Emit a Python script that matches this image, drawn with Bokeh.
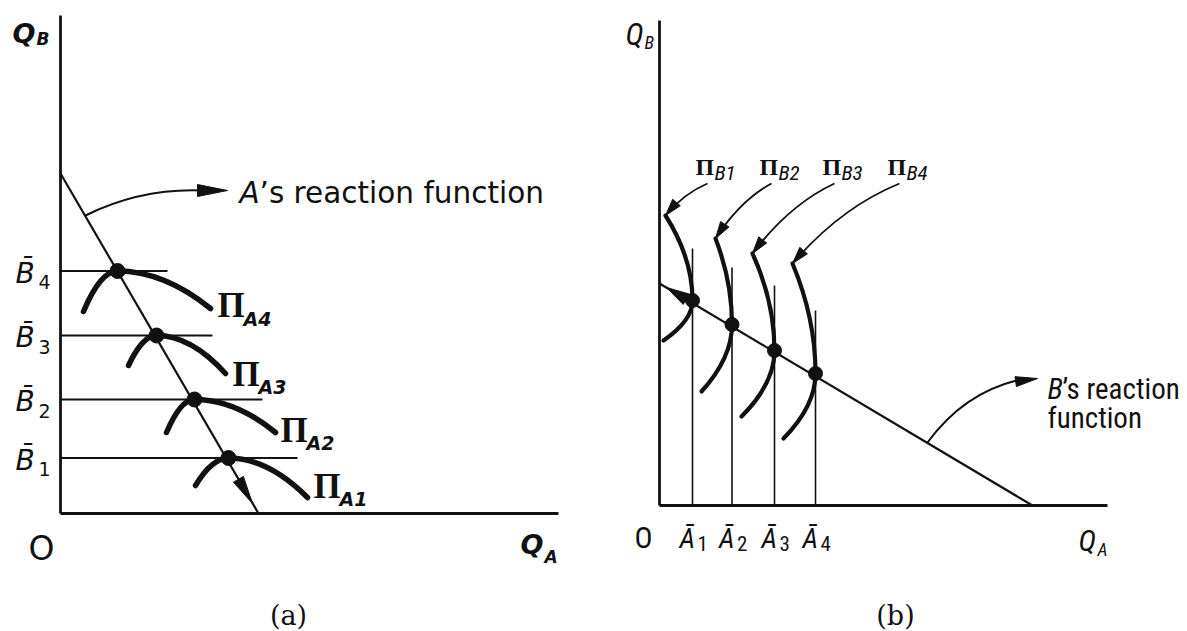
import math
from bokeh.plotting import figure
from bokeh.layouts import row
from bokeh.models import LinearAxis, FixedTicker
from bokeh.core.properties import value
from bokeh.embed import file_html
from bokeh.resources import INLINE

# ---------------- data: panel (a) ----------------
b_bar = [11.1, 22.8, 35.6, 48.5]            # B-bar levels (Q_B)
a_eq_x = [33.6, 26.8, 19.2, 11.4]           # A's best response (Q_A) at each B-bar
b_line_end = [47.4, 40.4, 30.4, 21.4]       # right end of the B-bar guide lines
pa_left_x = [27.0, 21.2, 13.6, 4.6]         # isoprofit Pi_A left ends
pa_left_y = [5.6, 16.2, 29.6, 40.4]
pa_right_x = [49.4, 43.0, 33.0, 30.0]       # isoprofit Pi_A right ends
pa_right_y = [3.2, 16.2, 28.0, 41.0]
ra_x = [0.0, 39.6]                          # A's reaction function
ra_y = [68.0, 0.0]
pa_subs = ["A1", "A2", "A3", "A4"]
bbar_subs = ["1", "2", "3", "4"]
pi_a_x = [50.6, 44.0, 34.4, 31.4]           # Pi_A label places
pi_a_y = [5.5, 16.7, 27.9, 41.6]

# ---------------- data: panel (b) ----------------
a_bar = [6.6, 14.5, 23.0, 31.2]             # A-bar levels (Q_A)
b_eq_y = [41.0, 36.2, 31.0, 26.4]           # B's best response (Q_B) at each A-bar
a_line_top = [51.4, 47.6, 44.0, 39.0]       # top of A-bar guide lines
pb_top_x = [1.2, 11.2, 18.6, 26.6]          # isoprofit Pi_B upper ends
pb_top_y = [58.0, 53.4, 50.4, 48.4]
pb_low_x = [0.8, 8.4, 16.4, 24.8]           # isoprofit Pi_B lower ends
pb_low_y = [33.0, 22.8, 17.8, 13.4]
rb_x = [0.0, 74.6]                          # B's reaction function
rb_y = [44.4, 0.0]
pb_subs = ["B1", "B2", "B3", "B4"]
abar_subs = ["1", "2", "3", "4"]
pi_b_x = [7.2, 20.0, 32.6, 45.6]            # Pi_B label places
pi_b_y = [67.7, 67.7, 67.7, 67.7]

INK = "#111111"
SANS = value("DejaVu Sans")
COND = value("Roboto Condensed")
SERIF = value("DejaVu Serif")
PISERIF = value("Liberation Serif")


def head(p, tip, frm, length, width):
    dx, dy = tip[0] - frm[0], tip[1] - frm[1]
    n = math.hypot(dx, dy)
    ux, uy = dx / n, dy / n
    bx, by = tip[0] - ux * length, tip[1] - uy * length
    px, py = -uy * width / 2, ux * width / 2
    p.patch([tip[0], bx + px, bx - px], [tip[1], by + py, by - py],
            fill_color=INK, line_color=INK, line_width=1)


def label(p, x, y, text, font, size, style="normal", **kw):
    p.text(x=x, y=y, text=text, text_font=font, text_font_size=size, text_font_style=style,
           text_color=INK, text_baseline="middle", **kw)


def make_fig(width, xr, yr, xmax, ymax):
    p = figure(width=width, height=630, x_range=xr, y_range=yr, x_axis_type=None, y_axis_type=None,
               output_backend="svg", toolbar_location=None, min_border=0, outline_line_color=None,
               background_fill_color="white", border_fill_color="white")
    p.xgrid.visible = False
    p.ygrid.visible = False
    for loc, bounds in (("below", (0, xmax)), ("left", (0, ymax))):
        ax = LinearAxis(fixed_location=0, bounds=bounds, ticker=FixedTicker(ticks=[]),
                        axis_line_width=2.8, axis_line_color=INK,
                        major_tick_line_color=None, minor_tick_line_color=None,
                        major_label_text_font_size="0px")
        p.add_layout(ax, loc)
    return p


# ======================= panel (a) =======================
pa = make_fig(594, (-12.0, 106.8), (-23.4, 102.6), 99.6, 99.6)

pa.segment(x0=[0] * 4, y0=b_bar, x1=b_line_end, y1=b_bar, line_color=INK, line_width=2)
pa.line(ra_x, ra_y, line_color=INK, line_width=2.2)
head(pa, (38.4, 2.0), (ra_x[0], ra_y[0]), 5.6, 2.3)
pa.quadratic(x0=pa_left_x, y0=pa_left_y, x1=a_eq_x, y1=b_bar,
             cx=[(l + e) / 2 for l, e in zip(pa_left_x, a_eq_x)], cy=b_bar,
             line_color=INK, line_width=5.5, line_cap="round")
pa.quadratic(x0=a_eq_x, y0=b_bar, x1=pa_right_x, y1=pa_right_y,
             cx=[(r + e) / 2 for r, e in zip(pa_right_x, a_eq_x)], cy=b_bar,
             line_color=INK, line_width=5.5, line_cap="round")
pa.scatter(a_eq_x, b_bar, size=15, color=INK)

label(pa, pi_a_x, pi_a_y, ["Π"] * 4, PISERIF, "35px", "bold")
label(pa, pi_a_x, pi_a_y, pa_subs, SANS, "19px", "bold italic", x_offset=26, y_offset=13)

label(pa, [-9.0] * 4, b_bar, ["B\u0304"] * 4, SANS, "28px", "italic", y_offset=2)
label(pa, [-9.0] * 4, b_bar, bbar_subs, SANS, "19px", x_offset=23, y_offset=11)

label(pa, [-9.6], [96.0], ["Q"], SANS, "27px", "bold italic")
label(pa, [-9.6], [96.0], ["B"], SANS, "17px", "bold italic", x_offset=24, y_offset=5)
label(pa, [92.0], [-6.2], ["Q"], SANS, "27px", "bold italic")
label(pa, [92.0], [-6.2], ["A"], SANS, "17px", "bold italic", x_offset=24, y_offset=12)
label(pa, [-3.8], [-7.0], ["O"], SANS, "33px", text_align="center")
label(pa, [45.6], [-20.4], ["(a)"], SERIF, "27px", text_align="center")

pa.quadratic(x0=[5.0], y0=[59.6], x1=[28.0], y1=[64.6], cx=[16.0], cy=[65.0],
             line_color=INK, line_width=2)
head(pa, (33.4, 64.6), (27.0, 64.6), 6.0, 2.4)
label(pa, [35.8], [64.1], ["A"], SANS, "29.5px", "italic")
label(pa, [35.8], [64.1], ["\u2019s reaction function"], SANS, "29.5px", x_offset=20)

# ======================= panel (b) =======================
pb = make_fig(593, (-13.0, 105.6), (-25.0, 101.0), 89.6, 97.0)

pb.segment(x0=a_bar, y0=[0] * 4, x1=a_bar, y1=a_line_top, line_color=INK, line_width=1.6)
pb.line(rb_x, rb_y, line_color=INK, line_width=2.2)
head(pb, (1.4, 43.6), (rb_x[1], rb_y[1]), 4.6, 2.4)
pb.quadratic(x0=pb_top_x, y0=pb_top_y, x1=a_bar, y1=b_eq_y,
             cx=a_bar, cy=[(t + e) / 2 for t, e in zip(pb_top_y, b_eq_y)],
             line_color=INK, line_width=4.2, line_cap="round")
pb.quadratic(x0=a_bar, y0=b_eq_y, x1=pb_low_x, y1=pb_low_y,
             cx=a_bar, cy=[(l + e) / 2 for l, e in zip(pb_low_y, b_eq_y)],
             line_color=INK, line_width=4.2, line_cap="round")
pb.scatter(a_bar, b_eq_y, size=14, color=INK)

label(pb, pi_b_x, pi_b_y, ["Π"] * 4, PISERIF, "24px", "bold")
label(pb, pi_b_x, pi_b_y, pb_subs, COND, "21px", "italic", x_offset=19, y_offset=6)
arr_sx = [x + 2.4 for x in pi_b_x]
arr_sy = [64.4] * 4
arr_cx = [s + 0.55 * (t - s) for s, t in zip(arr_sx, pb_top_x)]
arr_cy = [s + 0.3 * (t - s) for s, t in zip(arr_sy, pb_top_y)]
pb.quadratic(x0=arr_sx, y0=arr_sy, x1=pb_top_x, y1=pb_top_y, cx=arr_cx, cy=arr_cy,
             line_color=INK, line_width=1.8)
for tx, ty, cx, cy in zip(pb_top_x, pb_top_y, arr_cx, arr_cy):
    head(pb, (tx, ty), (cx, cy), 3.4, 2.0)

label(pb, a_bar, [-6.6] * 4, ["A\u0304"] * 4, COND, "28px", "italic", x_offset=-13)
label(pb, a_bar, [-6.6] * 4, abar_subs, COND, "21px", x_offset=5, y_offset=5)

label(pb, [-6.8], [94.3], ["Q"], COND, "31px", "italic")
label(pb, [-6.8], [94.3], ["B"], COND, "18px", "italic", x_offset=19, y_offset=8)
label(pb, [83.8], [-7.0], ["Q"], COND, "30px", "italic")
label(pb, [83.8], [-7.0], ["A"], COND, "18px", "italic", x_offset=19, y_offset=9)
label(pb, [-3.2], [-6.4], ["O"], COND, "30px", text_align="center")
label(pb, [47.2], [-22.0], ["(b)"], SERIF, "27px", text_align="center")

pb.quadratic(x0=[53.6], y0=[12.6], x1=[71.4], y1=[25.0], cx=[60.8], cy=[22.4],
             line_color=INK, line_width=2)
head(pb, (75.6, 25.4), (70.0, 24.6), 4.4, 2.0)
label(pb, [77.6], [23.3], ["B"], COND, "29px", "italic")
label(pb, [77.6], [23.3], ["\u2019s reaction"], COND, "29px", x_offset=15)
label(pb, [77.6], [17.5], ["function"], COND, "29px")

layout = row(pa, pb)
open("out.html", "w").write(file_html(layout, INLINE))
